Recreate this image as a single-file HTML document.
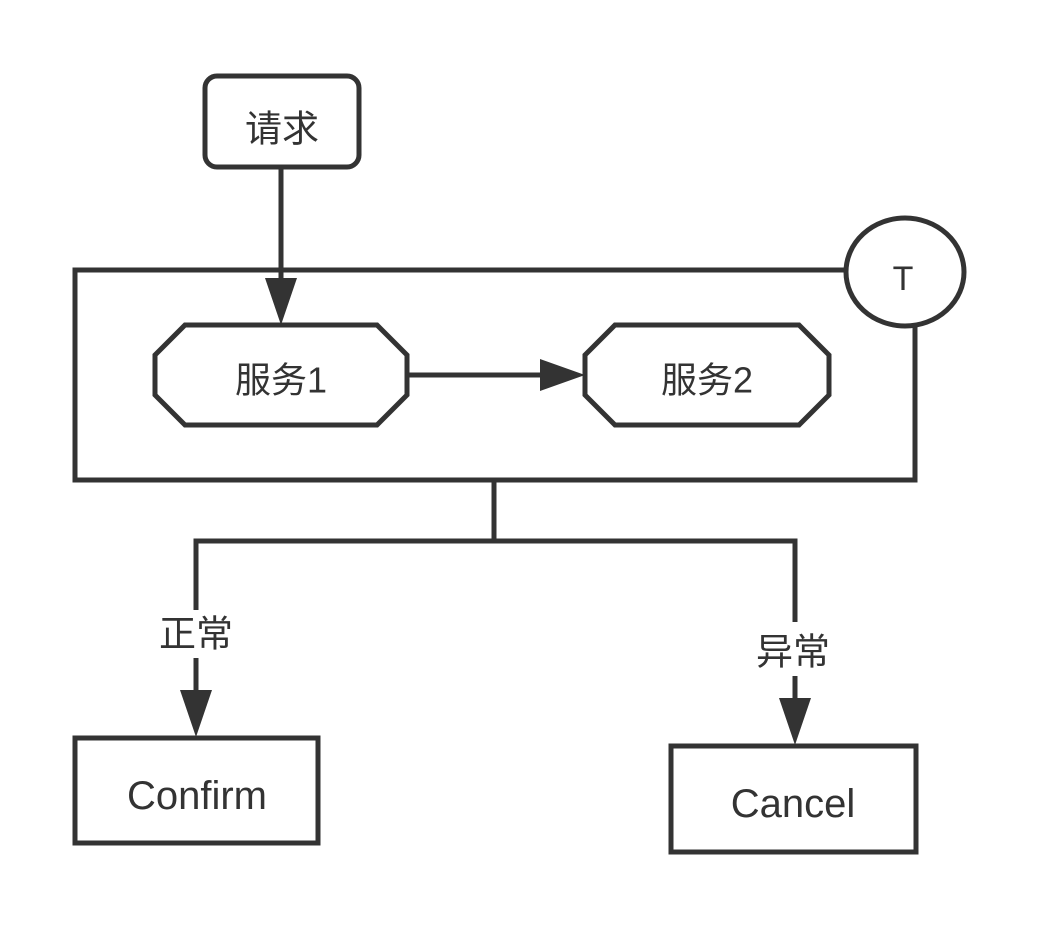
<!DOCTYPE html>
<html><head><meta charset="utf-8"><style>
html,body{margin:0;padding:0;background:#fff;}
svg{display:block;}
text{font-family:"Liberation Sans","Noto Sans CJK SC",sans-serif;fill:#333;dominant-baseline:central;}
</style></head><body>
<svg width="1038" height="927" viewBox="0 0 1038 927" xmlns="http://www.w3.org/2000/svg">
<g stroke="#333" stroke-width="5" fill="none">
  <rect x="205" y="76" width="154" height="91" rx="12" fill="#fff"/>
  <path d="M846 270 H75 V480 H915 V325"/>
  <ellipse cx="905" cy="272" rx="59" ry="54" fill="#fff"/>
  <polygon points="185,325 377,325 407,355 407,395 377,425 185,425 155,395 155,355" fill="#fff"/>
  <polygon points="615,325 799,325 829,355 829,395 799,425 615,425 585,395 585,355" fill="#fff"/>
  <line x1="281" y1="167" x2="281" y2="285"/>
  <line x1="407" y1="375" x2="545" y2="375"/>
  <path d="M494 480 V541 H196 V610"/>
  <path d="M494 541 H795 V622"/>
  <line x1="196" y1="658" x2="196" y2="695"/>
  <line x1="795" y1="676" x2="795" y2="705"/>
  <rect x="75" y="738" width="243" height="105" fill="#fff"/>
  <rect x="671" y="746" width="245" height="106" fill="#fff"/>
</g>
<g fill="#333">
  <polygon points="265,278 297,278 281,325"/>
  <polygon points="540,359 540,391 585,375"/>
  <polygon points="180,690 212,690 196,737"/>
  <polygon points="779,698 811,698 795,745"/>
</g>
<text x="282" y="129" font-size="37" text-anchor="middle">请求</text>
<text x="903" y="279" font-size="34" text-anchor="middle">T</text>
<text x="281" y="380" font-size="36" text-anchor="middle">服务1</text>
<text x="707" y="380" font-size="36" text-anchor="middle">服务2</text>
<text x="196" y="634" font-size="37" text-anchor="middle">正常</text>
<text x="793" y="652" font-size="37" text-anchor="middle">异常</text>
<text x="197" y="796" font-size="40" text-anchor="middle">Confirm</text>
<text x="793" y="804" font-size="40" text-anchor="middle">Cancel</text>
</svg>
</body></html>
